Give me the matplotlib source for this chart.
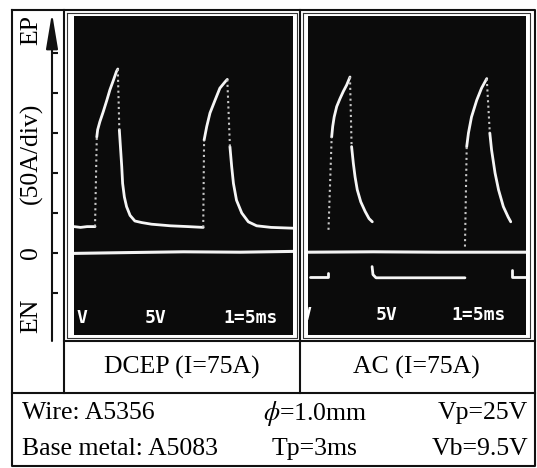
import matplotlib.pyplot as plt

plt.rcParams['font.family'] = ['Liberation Serif', 'DejaVu Serif']
plt.rcParams['mathtext.fontset'] = 'stix'

W, H = 537, 468

# scope scale: current in A (50 A per division), time in ms
tick_amps = [-50, 0, 50, 100, 150, 200, 250]
amp_lim = (-102.5, 296.25)
time_lim = (0, 50)

# DCEP trace: solid pieces and the fast (dotted) jumps
dcep_zero_t = [0, 12, 25, 38, 50]
dcep_zero_i = [-0.5, 0.5, 1.5, 1.0, 2.0]
dcep_solid = [
    ([0.0, 1.5, 3.0, 4.8], [33, 32, 33, 33]),
    ([5.2, 5.4, 5.9, 6.7, 7.5, 8.2, 9.0, 9.7, 10.0],
     [145, 154, 164, 177, 191, 204, 216, 227, 230]),
    ([10.35, 10.6, 10.9, 11.1, 11.5, 12.0, 12.8, 13.9, 15.5, 17.7, 22.0, 26.0, 29.5],
     [154, 133, 108, 87, 70, 58, 47, 40, 38, 36, 34, 33, 32]),
    ([29.7, 30.3, 31.05, 32.2, 33.3, 34.5, 35.0],
     [141, 158, 175, 191, 206, 214, 217]),
    ([35.6, 36.0, 36.4, 37.1, 38.3, 39.8, 41.7, 45.0, 50.0],
     [133, 108, 87, 66, 50, 39, 34, 32, 31]),
]
dcep_fast = [
    ([4.8, 5.2], [33, 145]),
    ([10.0, 10.35], [230, 154]),
    ([29.5, 29.7], [32, 141]),
    ([35.0, 35.6], [217, 133]),
]

# AC trace
ac_zero_t = [0, 15, 30, 50]
ac_zero_i = [1, 1.5, 1, 1]
ac_solid = [
    ([0.4, 4.6, 4.6], [-30, -30, -25]),
    ([5.43, 5.66, 6.0, 6.58, 7.34, 8.1, 8.87, 9.63],
     [145, 158, 170, 183, 193, 202, 210, 220]),
    ([10.0, 10.4, 10.8, 11.3, 12.1, 13.1, 14.0, 14.75],
     [133, 112, 95, 79, 64, 52, 43, 39]),
    ([14.7, 14.9, 15.6, 20.0, 25.0, 30.0, 36.0], [-17, -27, -31, -31, -31, -31, -31]),
    ([36.4, 36.8, 37.5, 38.7, 39.8, 41.0], [133, 150, 170, 191, 206, 218]),
    ([41.7, 42.1, 42.9, 43.7, 44.8, 45.9, 46.5], [150, 129, 100, 79, 58, 45, 39]),
    ([46.9, 46.9, 50.0], [-21, -30, -30]),
]
ac_fast = [
    ([4.7, 5.43], [29, 145]),
    ([9.63, 10.0], [220, 133]),
    ([36.0, 36.4], [8, 133]),
    ([41.0, 41.7], [218, 150]),
]

scope_notes = ['V', '5V', '1=5ms']
dcep_note_t = [1.8, 18.7, 40.2]
ac_note_t = [-0.4, 18.1, 39.2]

captions = ['DCEP (I=75A)', 'AC (I=75A)']
side_labels = ['EP', '(50A/div)', '0', 'EN']
params_left = ['Wire: A5356', 'Base metal: A5083']
params_mid = [r'$\phi$=1.0mm', 'Tp=3ms']
params_right = ['Vp=25V', 'Vb=9.5V']

fig = plt.figure(figsize=(W / 100, H / 100), dpi=100)
bg = fig.add_axes([0, 0, 1, 1])
bg.set_xlim(0, W)
bg.set_ylim(H, 0)
bg.axis('off')


def px_axes(x0, y0, x1, y1):
    return fig.add_axes([x0 / W, 1 - y1 / H, (x1 - x0) / W, (y1 - y0) / H])


# table rules
rule = dict(color='#111111', lw=1.5, solid_capstyle='projecting')
bg.plot([12, 535, 535, 12, 12], [10, 10, 466, 466, 10], **rule)
bg.plot([64, 64], [10, 393], **rule)
bg.plot([300, 300], [10, 393], **rule)
bg.plot([64, 535], [341, 341], **rule)
bg.plot([12, 535], [393, 393], **rule)
bg.plot([67, 297, 297, 67, 67], [13, 13, 338, 338, 13], color='#333333', lw=0.8)
bg.plot([303, 530, 530, 303, 303], [13, 13, 338, 338, 13], color='#333333', lw=0.8)

# scope photos
panels = [
    ((74, 16, 293, 335), dcep_solid, dcep_fast, dcep_zero_t, dcep_zero_i, dcep_note_t, -81),
    ((308, 16, 526, 335), ac_solid, ac_fast, ac_zero_t, ac_zero_i, ac_note_t, -78),
]
for rect, solid, fast, zt, zi, note_t, note_i in panels:
    ax = px_axes(*rect)
    ax.set_facecolor('#0b0b0b')
    ax.set_xlim(*time_lim)
    ax.set_ylim(*amp_lim)
    ax.set_xticks([])
    ax.set_yticks([])
    for s in ax.spines.values():
        s.set_visible(False)
    ax.plot(zt, zi, color='#f2f2f2', lw=2.2)
    for t, i in solid:
        ax.plot(t, i, color='#f6f6f6', lw=2.0, solid_joinstyle='round',
                solid_capstyle='round')
    for t, i in fast:
        ax.plot(t, i, color='#c8c8c8', lw=1.5, linestyle=(0, (1, 1.6)))
    for txt, t in zip(scope_notes, note_t):
        ax.text(t, note_i, txt, color='white', fontsize=13, fontweight='bold',
                family='DejaVu Sans Mono', ha='center', va='center', clip_on=True)

# current axis in the left column
la = px_axes(12, 16, 64, 335)
la.set_xlim(12, 64)
la.set_ylim(*amp_lim)
la.axis('off')
la.annotate('', xy=(52, 300), xytext=(52, -110), annotation_clip=False,
            arrowprops=dict(arrowstyle='-|>,head_length=1.8,head_width=0.3',
                            color='#111111', lw=1.5, mutation_scale=12,
                            shrinkA=0, shrinkB=0))
la.hlines(tick_amps, 52, 58, color='#111111', lw=1.5)

for txt, y in zip(side_labels, [30, 153, 253, 316]):
    bg.text(31, y, txt, rotation=90, fontsize=18.5, ha='center', va='center')

for txt, x in zip(captions, [182, 416]):
    bg.text(x, 367, txt, fontsize=18.5, ha='center', va='center')

for txt, y in zip(params_left, [413, 449]):
    bg.text(22, y, txt, fontsize=18.5, ha='left', va='center')
for txt, x, y in zip(params_mid, [263, 272], [413, 449]):
    bg.text(x, y, txt, fontsize=18.5, ha='left', va='center')
for txt, y in zip(params_right, [413, 449]):
    bg.text(528, y, txt, fontsize=18.5, ha='right', va='center')

fig.savefig('out.png', dpi=100)
